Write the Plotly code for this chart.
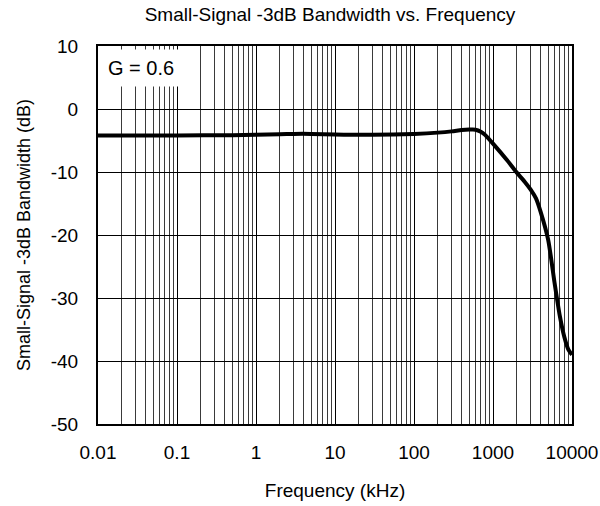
import plotly.graph_objects as go

freq_khz = [0.01, 0.1, 0.5, 1, 2, 3, 5, 10, 30, 100, 200, 300, 400, 500, 600, 700,
            800, 1000, 1500, 2000, 2500, 3000, 3500, 4000, 5000, 6000, 7000, 8000, 9000, 10000]
gain_db = [-4.2, -4.2, -4.15, -4.1, -4.0, -3.95, -3.95, -4.05, -4.1, -3.95, -3.75, -3.55,
           -3.35, -3.27, -3.28, -3.6, -4.15, -5.5, -8.1, -10.1, -11.5, -12.8, -14.2, -16.3,
           -20.8, -27.5, -32.8, -36.2, -38.2, -39.0]

x_major = [0.01, 0.1, 1, 10, 100, 1000, 10000]
x_major_labels = ["0.01", "0.1", "1", "10", "100", "1000", "10000"]
y_ticks = [10, 0, -10, -20, -30, -40, -50]
y_tick_labels = ["10", "0", "-10", "-20", "-30", "-40", "-50"]

title_text = "Small-Signal -3dB Bandwidth vs. Frequency"
x_title = "Frequency (kHz)"
y_title = "Small-Signal -3dB Bandwidth (dB)"
note = "G = 0.6"

# minor grid values: 2..9 multiples of each decade
minor_vals = [round(d * m, 6) for d in x_major[:-1] for m in range(2, 10)]

FONT = "Liberation Sans, Arial, sans-serif"

fig = go.Figure()
fig.add_trace(go.Scatter(x=freq_khz, y=gain_db, mode="lines",
                         line=dict(color="black", width=4, shape="spline", smoothing=0.6),
                         showlegend=False))

fig.update_layout(
    template="none",
    width=600, height=506,
    margin=dict(l=98, r=28, t=46, b=82),
    paper_bgcolor="white", plot_bgcolor="white",
    font=dict(family=FONT, size=19, color="black"),
    title=dict(text=title_text, x=0.55, xanchor="center", y=0.972, yanchor="middle",
               font=dict(size=19)),
    xaxis=dict(type="log", range=[-2, 4], tickvals=x_major, ticktext=x_major_labels,
               ticks="", ticklabelstandoff=10, showgrid=True, gridcolor="black", gridwidth=1,
               minor=dict(tickvals=minor_vals, showgrid=True, gridcolor="#3a3a3a", gridwidth=1, ticks=""),
               showline=True, linecolor="black", linewidth=2, mirror=True,
               title=dict(text=x_title, standoff=22, font=dict(size=19)), zeroline=False),
    yaxis=dict(range=[-50, 10], tickvals=y_ticks, ticktext=y_tick_labels, ticks="",
               ticklabelstandoff=14,
               showgrid=True, gridcolor="black", gridwidth=1,
               showline=True, linecolor="black", linewidth=2, mirror=True,
               title=dict(text=y_title, standoff=15, font=dict(size=18)), zeroline=False),
    annotations=[dict(text=note, xref="paper", yref="paper", x=0.004, y=0.992,
                      xanchor="left", yanchor="top", showarrow=False,
                      bgcolor="white", borderpad=7, font=dict(size=20))],
)

fig.write_html("out.html")
